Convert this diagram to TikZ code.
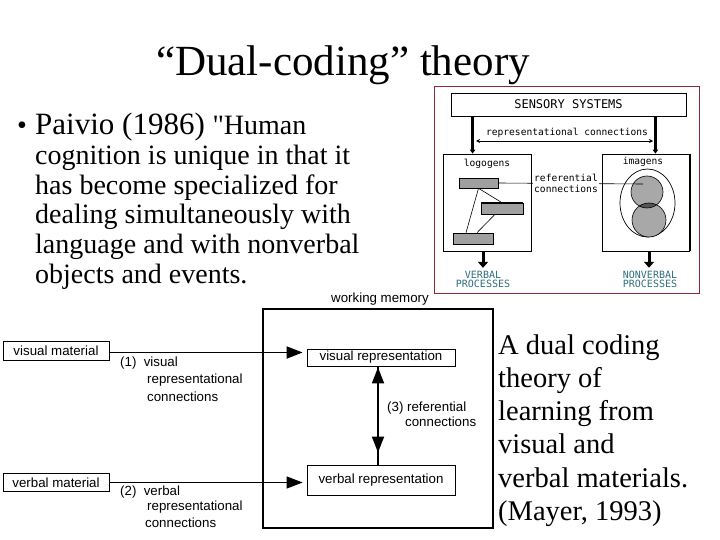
\documentclass[tikz,border=0pt]{standalone}
\usepackage{fontspec}
\setmainfont{Liberation Serif}
\newfontfamily\qfont[Ligatures=TeXOff]{Liberation Serif}
\newfontfamily\arialf{Liberation Sans}
\newfontfamily\monof{DejaVu Sans Mono}
\usetikzlibrary{arrows.meta,shapes.geometric}
\definecolor{framered}{HTML}{8C2A3C}
\definecolor{procteal}{HTML}{2F6F7F}
\definecolor{barg}{HTML}{A0A0A0}
\definecolor{circg}{HTML}{A8A8A8}
\definecolor{overg}{HTML}{555555}
\begin{document}
\begin{tikzpicture}[x=1pt,y=-1pt,
  box/.style={draw, inner sep=0pt, line width=0.8pt, fill=white},
  gbar/.style={draw, fill=barg, inner sep=0pt, line width=0.6pt},
  mono/.style={font=\monof\fontsize{9.6}{11}\selectfont, inner sep=0pt},
  sans/.style={font=\arialf\fontsize{13.3}{15}\selectfont},
  lbl/.style={font=\arialf\fontsize{13.3}{15}\selectfont, anchor=west, inner sep=0pt},
  proc/.style={font=\monof\fontsize{10}{9.5}\selectfont, text=procteal, align=center, inner sep=0pt},
  slide/.style={anchor=base west, inner sep=0pt, font=\fontsize{28}{30}\selectfont},
  rslide/.style={anchor=base west, inner sep=0pt, font=\fontsize{28.5}{30}\selectfont},
  bigtip/.style={-{Triangle[length=16pt,width=12pt]}},
  vboth/.style={{Triangle[length=16pt,width=12pt]}-{Triangle[length=16pt,width=12pt]}},
  sarrow/.style={line width=2.5pt, -{Triangle[length=4pt,width=5.5pt]}},
  darrow/.style={line width=3pt, -{Triangle[length=6pt,width=10pt]}, shorten >=3pt},
]
\useasboundingbox (0,0) rectangle (720,540);
\fill[white] (0,0) rectangle (720,540);

% ---------- title ----------
\node[anchor=base, inner sep=0pt] (title) at (343,76) {\fontsize{43}{43}\selectfont “Dual-coding” theory};

% ---------- quote ----------
\node[slide] (bul) at (17,135) {•};
\node[slide] (q1) at (35,135) {\fontsize{31}{30}\selectfont Paivio (1986) \fontsize{28}{30}\selectfont {\qfont"}Human};
\node[slide] (q2) at (35,164.6) {cognition is unique in that it};
\node[slide] (q3) at (35,194.2) {has become specialized for};
\node[slide] (q4) at (35,223.8) {dealing simultaneously with};
\node[slide] (q5) at (35,253.4) {language and with nonverbal};
\node[slide] (q6) at (35,283) {objects and events.};

% ---------- right text ----------
\node[rslide] (m1) at (498,354) {A dual coding};
\node[rslide] (m2) at (498,387.3) {theory of};
\node[rslide] (m3) at (498,420.6) {learning from};
\node[rslide] (m4) at (498,453.9) {visual and};
\node[rslide] (m5) at (498,487.2) {verbal materials.};
\node[rslide] (m6) at (498,520.5) {(Mayer, 1993)};

% ---------- top right diagram ----------
\node[draw=framered, line width=1pt, minimum width=265pt, minimum height=206pt, inner sep=0pt] (topframe) at (566.5,190) {};
\node[box, minimum width=235pt, minimum height=23pt, font=\monof\fontsize{12}{12}\selectfont] (sens) at (568.5,104.5) {SENSORY SYSTEMS};
\node[box, minimum width=88pt, minimum height=97pt] (logo) at (487,202.5) {};
\node[mono] (logolbl) at (487,164) {logogens};
\node[box, minimum width=87pt, minimum height=97pt] (imag) at (645.5,202.5) {};
\draw[line width=2.2pt] ([xshift=0.7pt]imag.north east) -- ([xshift=0.7pt]imag.south east);
\node[mono] (imaglbl) at (643,162) {imagens};

\draw[sarrow] ([xshift=30pt]logo.north west |- sens.south) -- ([xshift=30pt]logo.north west);
\draw[sarrow] ([xshift=-34pt]imag.north east |- sens.south) -- ([xshift=-34pt]imag.north east);

\coordinate (rcL) at (476,141);
\coordinate (rcR) at (653,141);
\draw[line width=0.6pt, {Stealth[length=4pt,width=4pt]}-{Stealth[length=4pt,width=4pt]}] (rcL) -- (rcR);
\node[mono] (rclbl) at (567,132.5) {representational connections};

% logogen bars
\node[gbar, minimum width=39pt, minimum height=10pt] (r1) at (478.5,183) {};
\node[gbar, minimum width=42pt, minimum height=11pt] (r2) at (502,208.5) {};
\draw[line width=1.6pt] (r2.north west) -- (r2.north east);
\node[gbar, minimum width=40pt, minimum height=11pt] (r3) at (473,238.5) {};
\draw[line width=0.6pt] (r1.south) -- ([xshift=-7pt]r3.north);
\draw[line width=0.6pt] (r1.south) -- (r2.north);
\draw[line width=0.6pt] ([xshift=4pt]r3.north) -- ([xshift=-7pt]r2.south);

% imagens
\draw[line width=0.7pt] (647.5,203) ellipse [x radius=27.5, y radius=34];
\fill[circg] (647,192) circle [radius=16];
\fill[circg] (649,220) circle [radius=17];
\begin{scope}
  \clip (647,192) circle [radius=16];
  \fill[overg] (649,220) circle [radius=17];
\end{scope}
\draw[line width=0.6pt] (647,192) circle [radius=16];
\draw[line width=0.6pt] (649,220) circle [radius=17];

\coordinate (refend) at (643,184);
\draw[line width=0.6pt] (r1.east) -- (refend);
\node[mono, fill=white, align=center, inner sep=1pt] (reflbl) at (566,183.5) {referential\\connections};

\node[proc] (vproc) at (483,279.5) {VERBAL\\PROCESSES};
\node[proc] (nvproc) at (650,279.5) {NONVERBAL\\PROCESSES};
\draw[darrow] ([xshift=-4pt]logo.south) -- ([xshift=-4pt]logo.south |- vproc.north);
\draw[darrow] ([xshift=3.5pt]imag.south) -- ([xshift=3.5pt]imag.south |- nvproc.north);

% ---------- bottom diagram ----------
\node[sans, inner sep=0pt] (wmlbl) at (380,299) {working memory};
\node[draw, line width=1.6pt, minimum width=230pt, minimum height=219pt, inner sep=0pt] (wm) at (378,418.5) {};
\node[box, sans, minimum width=148pt, minimum height=17pt] (visrep) at (381,357.5) {visual representation};
\node[box, sans, minimum width=148pt, minimum height=30pt] (verbrep) at (381,480) {verbal representation};
\node[box, sans, minimum width=106pt, minimum height=19pt] (vismat) at (56,350.5) {visual material};
\node[box, sans, minimum width=106pt, minimum height=18pt] (verbmat) at (56,482.5) {verbal material};

\draw[line width=1.8pt, bigtip, shorten >=4pt] ([yshift=-2pt]vismat.east) -- ([yshift=-2pt]vismat.east -| visrep.west);
\draw[line width=1.2pt, bigtip, shorten >=4pt] (verbmat.east) -- (verbmat.east -| verbrep.west);
\draw[line width=1.8pt] ([xshift=-3pt]visrep.south) -- ([xshift=-3pt]verbrep.north);
\draw[line width=1.8pt, vboth, shorten <=1pt, shorten >=12pt] ([xshift=-3pt]visrep.south) -- ([xshift=-3pt]verbrep.north);

\node[lbl] (c1a) at (120,363) {(1)\ \ visual};
\node[lbl] (c1b) at (147,380) {representational};
\node[lbl] (c1c) at (147,396.5) {connections};
\node[lbl] (c2a) at (120,492) {(2)\ \ verbal};
\node[lbl] (c2b) at (147,507.5) {representational};
\node[lbl] (c2c) at (145,523) {connections};
\node[lbl] (c3a) at (387,408) {(3) referential};
\node[lbl] (c3b) at (405,422) {connections};
\end{tikzpicture}
\end{document}
